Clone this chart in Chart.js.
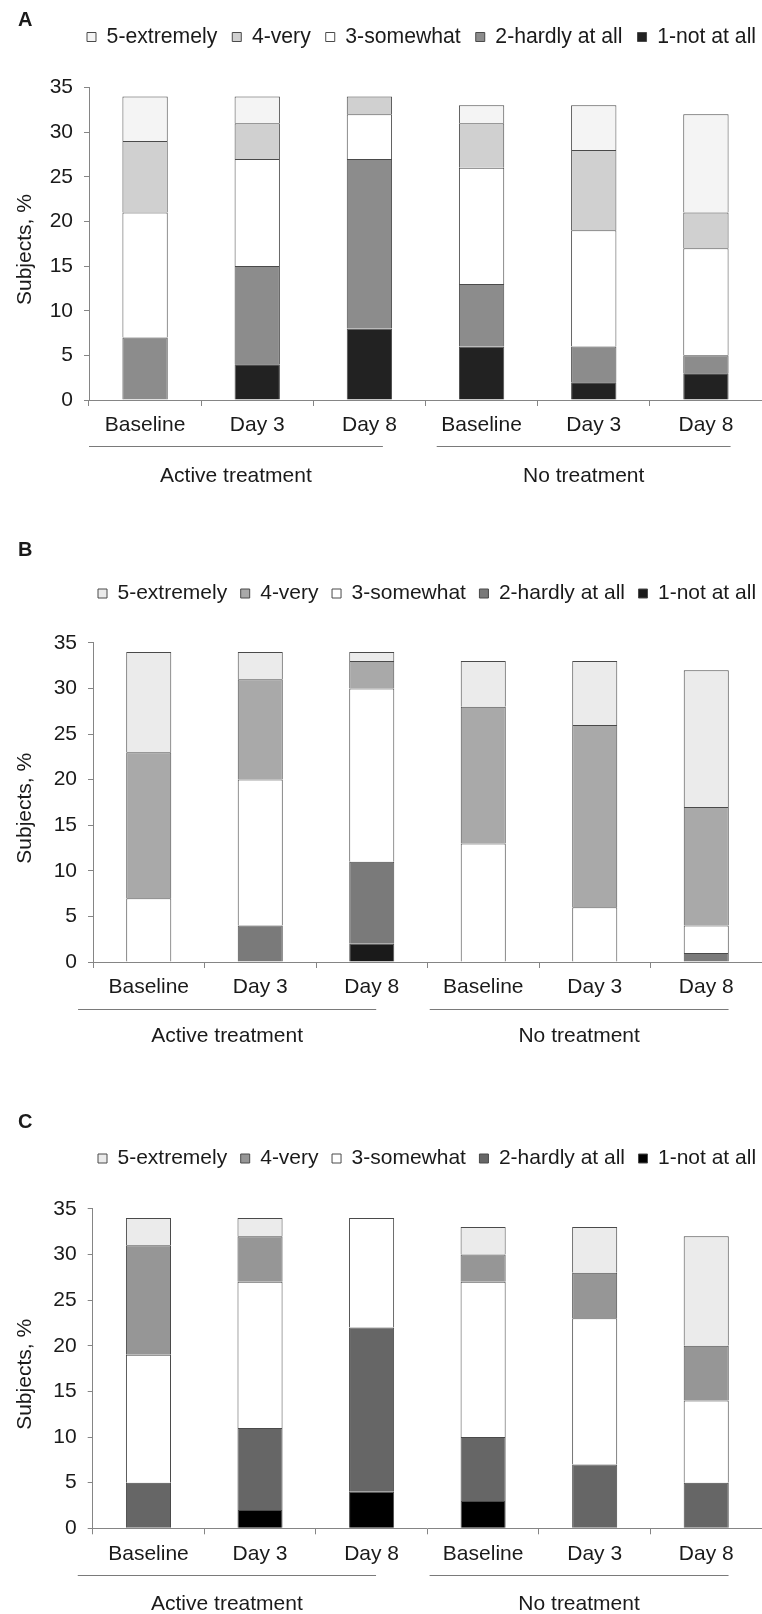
<!DOCTYPE html>
<html>
<head>
<meta charset="utf-8">
<script src="https://cdn.jsdelivr.net/npm/chart.js@4.4.1/dist/chart.umd.min.js"></script>
<style>
  html, body { margin: 0; padding: 0; background: #ffffff; }
  body { width: 762px; height: 1614px; position: relative; overflow: hidden; }
  .panel { position: absolute; left: 0; width: 762px; }
  .panel canvas { display: block; }
</style>
</head>
<body>
<div class="panel" style="top:0px;height:500px"><canvas id="chartA" width="762" height="500"></canvas></div>
<div class="panel" style="top:510px;height:540px"><canvas id="chartB" width="762" height="540"></canvas></div>
<div class="panel" style="top:1080px;height:534px"><canvas id="chartC" width="762" height="534"></canvas></div>
<script>
// ---------- data ----------
const categories = ['Baseline', 'Day 3', 'Day 8', 'Baseline', 'Day 3', 'Day 8'];
const groupLabels = ['Active treatment', 'No treatment'];
const seriesNames = ['1-not at all', '2-hardly at all', '3-somewhat', '4-very', '5-extremely'];
const panelLetters = ['A', 'B', 'C'];
const yAxisTitle = 'Subjects, %';
const yMax = 35;
const yStep = 5;

// Panel A
const notAtAllA  = [0, 4, 8, 6, 2, 3];
const hardlyA    = [7, 11, 19, 7, 4, 2];
const somewhatA  = [14, 12, 5, 13, 13, 12];
const veryA      = [8, 4, 2, 5, 9, 4];
const extremelyA = [5, 3, 0, 2, 5, 11];

// Panel B
const notAtAllB  = [0, 0, 2, 0, 0, 0];
const hardlyB    = [0, 4, 9, 0, 0, 1];
const somewhatB  = [7, 16, 19, 13, 6, 3];
const veryB      = [16, 11, 3, 15, 20, 13];
const extremelyB = [11, 3, 1, 5, 7, 15];

// Panel C
const notAtAllC  = [0, 2, 4, 3, 0, 0];
const hardlyC    = [5, 9, 18, 7, 7, 5];
const somewhatC  = [14, 16, 12, 17, 16, 9];
const veryC      = [12, 5, 0, 3, 5, 6];
const extremelyC = [3, 2, 0, 3, 5, 12];

// ---------- styling ----------
const FONT = '"Liberation Sans", Arial, Helvetica, sans-serif';
const TEXT = '#1a1a1a';
const AXIS = '#858585';
const BORDER = '#4a4a4a';
Chart.defaults.font.family = FONT;
Chart.defaults.font.size = 21;
Chart.defaults.color = TEXT;

const paletteA = ['#222222', '#8c8c8c', '#ffffff', '#d0d0d0', '#f4f4f4'];
const paletteB = ['#1a1a1a', '#7a7a7a', '#ffffff', '#a9a9a9', '#ebebeb'];
const paletteC = ['#000000', '#666666', '#ffffff', '#969696', '#ebebeb'];

// place the legend row at a given start x / centre y without changing the plot area
const legendPlacer = {
  id: 'legendPlacer',
  afterLayout(chart, args, opts) {
    const lg = chart.legend;
    if (!lg) return;
    const p = lg.options.labels.padding;
    const w = lg.right - lg.left;
    const h = lg.bottom - lg.top;
    const itemH = Math.max(lg.options.labels.font.size || 21, lg.options.labels.boxHeight || 0);
    lg.left = opts.x - p;
    lg.right = lg.left + w;
    lg.top = opts.cy - p - itemH / 2;
    lg.bottom = lg.top + h;
  }
};

// group underlines + group labels + panel letter
const groupPlugin = {
  id: 'groupPlugin',
  afterDraw(chart, args, o) {
    const ctx = chart.ctx;
    const xs = chart.scales.x;
    const base = chart.chartArea.bottom;
    ctx.save();
    ctx.strokeStyle = '#7a7a7a';
    ctx.lineWidth = 1;
    ctx.fillStyle = TEXT;
    ctx.font = '21px ' + FONT;
    ctx.textAlign = 'center';
    ctx.textBaseline = 'middle';
    o.spans.forEach((s, i) => {
      const x0 = xs.getPixelForValue(s[0]);
      const x1 = xs.getPixelForValue(s[1]);
      const ly = Math.round(base + o.lineOffset) + 0.5;
      ctx.beginPath();
      ctx.moveTo(x0, ly);
      ctx.lineTo(x1, ly);
      ctx.stroke();
      ctx.fillText(groupLabels[i], (x0 + x1) / 2, base + o.labelOffset);
    });
    ctx.font = 'bold 20px ' + FONT;
    ctx.textAlign = 'left';
    ctx.fillText(o.letter, 18, o.letterY);
    ctx.restore();
  }
};

function makeChart(id, series, palette, cfg) {
  const datasets = series.map((vals, i) => ({
    label: seriesNames[i],
    data: vals,
    backgroundColor: palette[i],
    borderColor: BORDER,
    borderWidth: 1,
    barPercentage: 0.404,
    categoryPercentage: 1.0
  }));
  return new Chart(document.getElementById(id), {
    type: 'bar',
    data: { labels: categories, datasets },
    plugins: [legendPlacer, groupPlugin],
    options: {
      responsive: false,
      animation: false,
      events: [],
      layout: { padding: { top: cfg.padTop, bottom: cfg.padBottom, left: 0, right: 0 } },
      plugins: {
        legend: {
          display: true,
          position: 'top',
          align: 'start',
          reverse: true,
          labels: {
            boxWidth: 9,
            boxHeight: 9,
            padding: cfg.legendPad,
            color: TEXT,
            font: { size: cfg.legendFont, family: FONT }
          }
        },
        tooltip: { enabled: false },
        legendPlacer: { x: cfg.legendX, cy: cfg.legendCY },
        groupPlugin: {
          spans: cfg.spans,
          lineOffset: cfg.lineOffset,
          labelOffset: cfg.labelOffset,
          letter: cfg.letter,
          letterY: cfg.letterY
        }
      },
      scales: {
        x: {
          stacked: true,
          offset: true,
          grid: { display: true, offset: true, drawOnChartArea: false, drawTicks: true, tickLength: 6, color: AXIS },
          border: { display: true, color: AXIS, width: 1 },
          ticks: { autoSkip: false, maxRotation: 0, padding: 7, color: TEXT, font: { size: 21 } },
          afterFit: (s) => { s.height = 40; }
        },
        y: {
          stacked: true,
          min: 0,
          max: yMax,
          grid: { display: true, drawOnChartArea: false, drawTicks: true, tickLength: 5, color: AXIS },
          border: { display: true, color: AXIS, width: 1 },
          ticks: { stepSize: yStep, padding: 11, color: TEXT, font: { size: 21 } },
          title: { display: true, text: yAxisTitle + '\u00a0\u00a0', color: TEXT, font: { size: 21 }, padding: { top: 12.5, bottom: 0 } },
          afterFit: (s) => { s.width = cfg.yWidth; }
        }
      }
    }
  });
}

makeChart('chartA', [notAtAllA, hardlyA, somewhatA, veryA, extremelyA], paletteA, {
  padTop: 41.3, padBottom: 60, yWidth: 89,
  legendX: 87, legendCY: 37, legendPad: 15, legendFont: 21.2,
  spans: [[-0.5, 2.12], [2.6, 5.22]], lineOffset: 45.5, labelOffset: 76.5,
  letter: panelLetters[0], letterY: 20
});
makeChart('chartB', [notAtAllB, hardlyB, somewhatB, veryB, extremelyB], paletteB, {
  padTop: 88.3, padBottom: 48, yWidth: 93,
  legendX: 98, legendCY: 83.5, legendPad: 13.5, legendFont: 21,
  spans: [[-0.634, 2.04], [2.52, 5.2]], lineOffset: 47, labelOffset: 74,
  letter: panelLetters[1], letterY: 40
});
makeChart('chartC', [notAtAllC, hardlyC, somewhatC, veryC, extremelyC], paletteC, {
  padTop: 84.3, padBottom: 45.7, yWidth: 92.7,
  legendX: 98, legendCY: 78.5, legendPad: 13.5, legendFont: 21,
  spans: [[-0.634, 2.04], [2.52, 5.2]], lineOffset: 47, labelOffset: 75.5,
  letter: panelLetters[2], letterY: 42.4
});
</script>
</body>
</html>
